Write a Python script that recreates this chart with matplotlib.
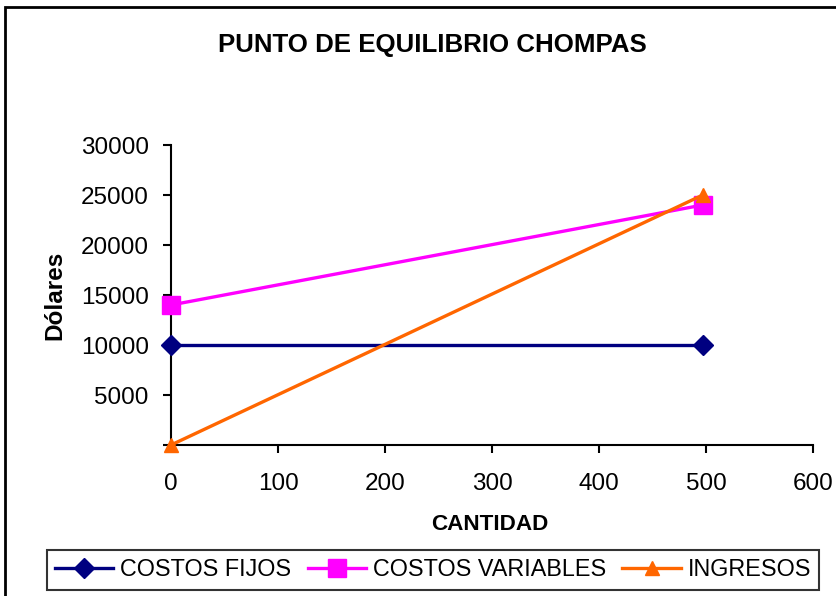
import matplotlib
matplotlib.use("Agg")
import matplotlib.pyplot as plt
from matplotlib.patches import Rectangle

# datos
cantidad = [0, 497]
costos_fijos = [10000, 10000]
costos_variables = [14000, 24000]
ingresos = [0, 25000]

x_ticks = [0, 100, 200, 300, 400, 500, 600]
y_ticks = [0, 5000, 10000, 15000, 20000, 25000, 30000]
y_tick_labels = ["", "5000", "10000", "15000", "20000", "25000", "30000"]

plt.rcParams["font.family"] = ["Liberation Sans", "DejaVu Sans"]


def main() -> None:
    fig = plt.figure(figsize=(8.37, 5.96), dpi=100)
    ax = fig.add_axes([171 / 837, 1 - 445 / 596, (813 - 171) / 837, 300 / 596])

    ax.plot(cantidad, costos_fijos, color="#000080", lw=2.4, marker="D",
            ms=10, clip_on=False, zorder=3, label="COSTOS FIJOS")
    ax.plot(cantidad, costos_variables, color="#FF00FF", lw=2.4, marker="s",
            ms=13, clip_on=False, zorder=3, label="COSTOS VARIABLES")
    ax.plot(cantidad, ingresos, color="#FF6600", lw=2.4, marker="^",
            ms=10, clip_on=False, zorder=4, label="INGRESOS")

    ax.set_xlim(0, 600)
    ax.set_ylim(0, 30000)
    ax.set_xticks(x_ticks)
    ax.set_yticks(y_ticks)
    ax.set_yticklabels(y_tick_labels)
    ax.spines["top"].set_visible(False)
    ax.spines["right"].set_visible(False)
    for s in ("left", "bottom"):
        ax.spines[s].set_linewidth(1.5)
    ax.tick_params(axis="x", length=6, width=1.5, pad=14, labelsize=17.5)
    ax.tick_params(axis="y", length=6, width=1.5, pad=10, labelsize=17.5)

    fig.text(432 / 837, 1 - 45 / 596, "PUNTO DE EQUILIBRIO CHOMPAS",
             ha="center", va="center", fontsize=18.6, fontweight="bold")
    fig.text(490 / 837, 1 - 524 / 596, "CANTIDAD", ha="center", va="center",
             fontsize=16.2, fontweight="bold")
    fig.text(55 / 837, 1 - 295 / 596, "Dólares", ha="center", va="center",
             rotation=90, fontsize=17.5, fontweight="bold")

    leg = fig.legend(loc="center", bbox_to_anchor=(433 / 837, 1 - 570 / 596),
                     ncol=3, fontsize=16.8, frameon=True, fancybox=False,
                     handlelength=2.5, columnspacing=0.7, handletextpad=0.3,
                     borderpad=0.35, borderaxespad=0)
    leg.get_frame().set_edgecolor("black")
    leg.get_frame().set_linewidth(1.5)

    # borde del area del grafico
    fig.patches.append(Rectangle((5 / 837, -0.1), 1.2, 1 - 7 / 596 + 0.1,
                                 transform=fig.transFigure, fill=False,
                                 edgecolor="black", lw=2))

    fig.savefig("out.png", dpi=100)


if __name__ == "__main__":
    main()
